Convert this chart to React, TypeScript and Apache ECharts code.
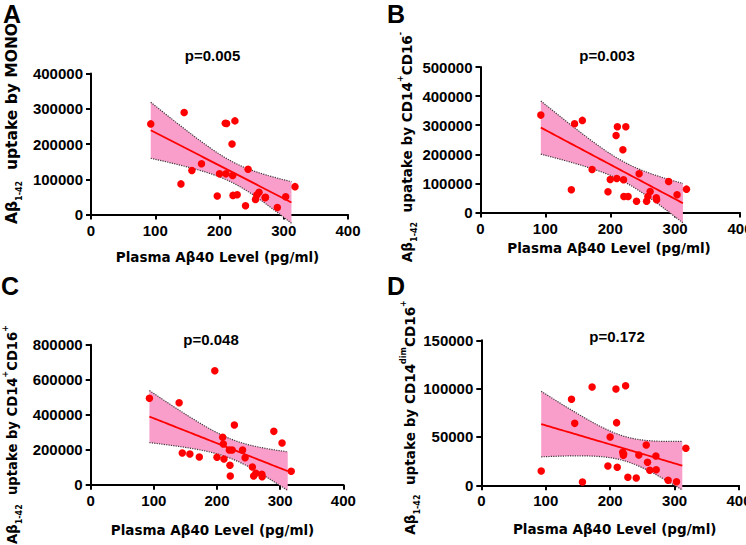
import { useEffect, useRef } from "react";
import * as echarts from "echarts";

// ---- data ----
const PLASMA_AB40 = [93, 140, 145, 157, 172, 196.5, 200, 209, 210, 211, 219.5, 220.5, 221, 224, 227.5, 240.5, 244.5, 256, 258, 261.5, 271, 271.5, 290, 303, 317.5];

const UPTAKE_MONO = [257000, 86800, 289600, 124800, 143900, 52500, 115300, 259000, 115300, 258200, 199900, 110500, 54200, 265600, 56200, 24800, 128500, 42800, 55300, 62800, 47600, 49000, 19900, 50500, 79000];

const UPTAKE_CD14_CD16NEG = [334700, 78100, 305100, 316500, 147900, 71200, 113500, 264900, 117000, 294800, 215700, 112500, 55000, 294800, 55000, 38900, 133100, 38900, 55000, 72200, 50600, 44000, 106600, 60900, 80200];

const UPTAKE_CD14_CD16POS = [493700, 468500, 181000, 175300, 158100, 651400, 156400, 270700, 232400, 146700, 198100, 110700, 49500, 198100, 341000, 198100, 154100, 101000, 49500, 64800, 59200, 45500, 304900, 238100, 76400];

const UPTAKE_CD14DIM_CD16POS = [14800, 89000, 64100, 3400, 101700, 20000, 50000, 99600, 64800, 18600, 34100, 31000, 32500, 103000, 8300, 7600, 31300, 41700, 23800, 15500, 30300, 16100, 5200, 3700, 38300];

const X_TICKS = [0, 100, 200, 300, 400];
const Y_TICKS_A = [0, 100000, 200000, 300000, 400000];
const Y_TICKS_B = [0, 100000, 200000, 300000, 400000, 500000];
const Y_TICKS_C = [0, 200000, 400000, 600000, 800000];
const Y_TICKS_D = [0, 50000, 100000, 150000];

const P_VALUES = ["p=0.005", "p=0.003", "p=0.048", "p=0.172"];
const PANEL_LETTERS = ["A", "B", "C", "D"];
const X_TITLE = "Plasma Aβ40 Level (pg/ml)";
const Y_TITLES = [
  "{n|Aβ}{sub|1-42}{n|  uptake by MONO}",
  "{n|Aβ}{sub|1-42}{n|  upatake by CD14}{sup|+}{n|CD16}{sup|-}",
  "{n|Aβ}{sub|1-42}{n|  uptake by CD14}{sup|+}{n|CD16}{sup|+}",
  "{n|Aβ}{sub|1-42}{n|  uptake by CD14}{sup|dim}{n|CD16}{sup|+}",
];
const FIT_X_RANGE = [93, 312];

// ---- layout / style ----
const GRIDS = [
  { left: 91, top: 73.5, width: 257, height: 141 },
  { left: 480.5, top: 67, width: 259.5, height: 145.5 },
  { left: 90.7, top: 344.7, width: 252.6, height: 140 },
  { left: 481.3, top: 340.3, width: 257.7, height: 145 },
];
const PANEL_TEXT = [
  { letter: [12, 14], p: [212.5, 55], xt: [217.5, 257], yt: [12, 123.5], ys: 15.5 },
  { letter: [396, 14], p: [607, 55], xt: [609, 248], yt: [407, 147], ys: 13.6 },
  { letter: [10, 286], p: [211, 339], xt: [212.5, 530], yt: [12, 434.5], ys: 13.2 },
  { letter: [396, 286], p: [617, 336], xt: [614.7, 528.7], yt: [410, 417.5], ys: 13.6 },
];
const PINK = "#f99dca";
const RED = "#ff0000";
const AXIS_FONT = "'DejaVu Sans', sans-serif";
const ARIAL = "'Liberation Sans', Arial, sans-serif";

function tCrit(df: number) {
  const z = 1.959964;
  const g1 = (z ** 3 + z) / 4;
  const g2 = (5 * z ** 5 + 16 * z ** 3 + 3 * z) / 96;
  const g3 = (3 * z ** 7 + 19 * z ** 5 + 17 * z ** 3 - 15 * z) / 384;
  return z + g1 / df + g2 / df ** 2 + g3 / df ** 3;
}

function fitBand(xs: number[], ys: number[]) {
  const n = xs.length;
  const xm = xs.reduce((s, v) => s + v, 0) / n;
  const ym = ys.reduce((s, v) => s + v, 0) / n;
  let sxx = 0;
  let sxy = 0;
  for (let i = 0; i < n; i++) {
    sxx += (xs[i] - xm) ** 2;
    sxy += (xs[i] - xm) * (ys[i] - ym);
  }
  const b = sxy / sxx;
  const a = ym - b * xm;
  let sse = 0;
  for (let i = 0; i < n; i++) sse += (ys[i] - (a + b * xs[i])) ** 2;
  const s = Math.sqrt(sse / (n - 2));
  const t = tCrit(n - 2);
  const line: number[][] = [];
  const upper: number[][] = [];
  const lower: number[][] = [];
  const steps = 48;
  for (let k = 0; k <= steps; k++) {
    const x = FIT_X_RANGE[0] + ((FIT_X_RANGE[1] - FIT_X_RANGE[0]) * k) / steps;
    const yhat = a + b * x;
    const hw = t * s * Math.sqrt(1 / n + (x - xm) ** 2 / sxx);
    line.push([x, yhat]);
    upper.push([x, yhat + hw]);
    lower.push([x, yhat - hw]);
  }
  return { line, upper, lower };
}

export default function App() {
  const ref = useRef<HTMLDivElement>(null);
  useEffect(() => {
    if (!ref.current) return;
    const chart = echarts.init(ref.current, undefined, { renderer: "svg" });
    const panels = [
      { ys: UPTAKE_MONO, ticks: Y_TICKS_A },
      { ys: UPTAKE_CD14_CD16NEG, ticks: Y_TICKS_B },
      { ys: UPTAKE_CD14_CD16POS, ticks: Y_TICKS_C },
      { ys: UPTAKE_CD14DIM_CD16POS, ticks: Y_TICKS_D },
    ];
    const axisLine = { show: true, onZero: false, lineStyle: { color: "#000", width: 2 } };
    const axisTick = { show: true, length: 5, lineStyle: { color: "#000", width: 2 } };
    const axisLabelBase = {
      show: true,
      fontFamily: ARIAL,
      fontWeight: "bold",
      fontSize: 15,
      color: "#000",
      hideOverlap: false,
      formatter: (v: number) => String(v),
    };
    const series: any[] = [];
    panels.forEach((p, i) => {
      const band = fitBand(PLASMA_AB40, p.ys);
      series.push({
        type: "custom",
        xAxisIndex: i,
        yAxisIndex: i,
        silent: true,
        clip: false,
        z: 1,
        data: [[FIT_X_RANGE[0], 0]],
        renderItem: (_params: any, api: any) => ({
          type: "polygon",
          shape: {
            points: [...band.upper, ...band.lower.slice().reverse()].map((pt) => api.coord(pt)),
          },
          style: { fill: PINK, stroke: "none" },
        }),
      });
      [band.upper, band.lower].forEach((edge) =>
        series.push({
          type: "line",
          xAxisIndex: i,
          yAxisIndex: i,
          data: edge,
          symbol: "none",
          silent: true,
          clip: false,
          z: 2,
          lineStyle: { color: "#3a3a3a", width: 1.2, type: "dotted" },
        })
      );
      series.push({
        type: "line",
        xAxisIndex: i,
        yAxisIndex: i,
        data: band.line,
        symbol: "none",
        silent: true,
        clip: false,
        z: 3,
        lineStyle: { color: RED, width: 1.8 },
      });
      series.push({
        type: "scatter",
        xAxisIndex: i,
        yAxisIndex: i,
        data: PLASMA_AB40.map((x, j) => [x, p.ys[j]]),
        symbolSize: 7.5,
        itemStyle: { color: RED, opacity: 1 },
        z: 4,
      });
    });

    const graphic: any[] = [];
    PANEL_TEXT.forEach((t, i) => {
      graphic.push({
        type: "text",
        x: t.letter[0],
        y: t.letter[1],
        style: {
          text: PANEL_LETTERS[i],
          fontFamily: ARIAL,
          fontWeight: "bold",
          fontSize: 25,
          fill: "#000",
          align: "center",
          verticalAlign: "middle",
        },
      });
      graphic.push({
        type: "text",
        x: t.p[0],
        y: t.p[1],
        style: {
          text: P_VALUES[i],
          fontFamily: ARIAL,
          fontWeight: "bold",
          fontSize: 15,
          fill: "#000",
          align: "center",
          verticalAlign: "middle",
        },
      });
      graphic.push({
        type: "text",
        x: t.xt[0],
        y: t.xt[1],
        style: {
          text: X_TITLE,
          fontFamily: AXIS_FONT,
          fontWeight: "bold",
          fontSize: 13.5,
          fill: "#000",
          align: "center",
          verticalAlign: "middle",
        },
      });
      graphic.push({
        type: "text",
        x: t.yt[0],
        y: t.yt[1],
        rotation: Math.PI / 2,
        style: {
          text: Y_TITLES[i],
          align: "center",
          verticalAlign: "middle",
          fill: "#000",
          rich: {
            n: { fontFamily: AXIS_FONT, fontWeight: "bold", fontSize: t.ys, lineHeight: 22, fill: "#000" },
            sub: { fontFamily: AXIS_FONT, fontWeight: "bold", fontSize: 8, lineHeight: 8, verticalAlign: "bottom", fill: "#000" },
            sup: { fontFamily: AXIS_FONT, fontWeight: "bold", fontSize: 8, lineHeight: 13, verticalAlign: "top", fill: "#000" },
          },
        },
      });
    });

    chart.setOption({
      animation: false,
      backgroundColor: "#fff",
      grid: GRIDS.map((g) => ({ ...g, containLabel: false, outerBoundsMode: "none" })),
      xAxis: GRIDS.map((_g, i) => ({
        gridIndex: i,
        type: "value",
        min: X_TICKS[0],
        max: X_TICKS[X_TICKS.length - 1],
        interval: X_TICKS[1] - X_TICKS[0],
        axisLine,
        axisTick,
        splitLine: { show: false },
        axisLabel: { ...axisLabelBase, margin: 8 },
      })),
      yAxis: panels.map((p, i) => ({
        gridIndex: i,
        type: "value",
        min: p.ticks[0],
        max: p.ticks[p.ticks.length - 1],
        interval: p.ticks[1] - p.ticks[0],
        axisLine,
        axisTick,
        splitLine: { show: false },
        axisLabel: { ...axisLabelBase, margin: 8 },
      })),
      series,
      graphic,
    });
    return () => chart.dispose();
  }, []);
  return (
    <div
      ref={ref}
      style={{ position: "fixed", left: 0, top: 0, width: 746, height: 545, background: "#fff" }}
    />
  );
}
